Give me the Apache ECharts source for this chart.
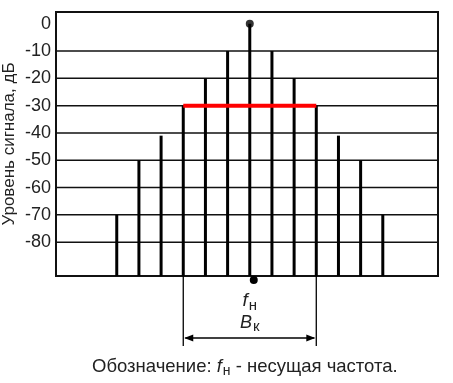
<!DOCTYPE html>
<html>
<head>
<meta charset="utf-8">
<script src="https://cdn.jsdelivr.net/npm/echarts@6/dist/echarts.min.js"></script>
<style>html,body{margin:0;padding:0;background:#fff}#c{width:453px;height:383px}</style>
</head>
<body>
<div id="c"></div>
<script>
// Spectrum lines: offset from carrier (in channel steps) and level in dB
const offsets = [-6, -5, -4, -3, -2, -1, 0, 1, 2, 3, 4, 5, 6];
const levels  = [-70, -50, -41, -30, -20, -10, 0, -10, -20, -30, -41, -50, -70];
// Y tick labels (dB)
const yTicks = [0, -10, -20, -30, -40, -50, -60, -70, -80];
// Channel bandwidth edges and level (red line)
const bandEdges = [-3, 3];
const bandLevel = -30;
const carrier = 0;
// Texts
const yName = 'Уровень сигнала, дБ';
const captionPre = 'Обозначение: ';
const captionPost = ' - несущая частота.';

const X_MIN = -8.74, X_MAX = 8.49, Y_MIN = -92.4, Y_MAX = 4.3;
const FONT = 'Liberation Sans, Arial, sans-serif';

const chart = echarts.init(document.getElementById('c'), null, {renderer: 'canvas'});

const gridVals = yTicks.filter(v => v !== 0);

const option = {
  animation: false,
  grid: {left: 56, right: 15, top: 12, bottom: 107, outerBoundsMode: 'none', containLabel: false,
         show: true, borderColor: '#111', borderWidth: 2, backgroundColor: 'transparent'},
  xAxis: {type: 'value', min: X_MIN, max: X_MAX, show: false},
  yAxis: {
    type: 'value', min: Y_MIN, max: Y_MAX,
    axisLine: {show: false}, axisTick: {show: false}, splitLine: {show: false},
    axisLabel: {customValues: yTicks, fontSize: 18, color: '#222', fontFamily: FONT, margin: 5, padding: [3, 0, 0, 0]},
    name: yName, nameLocation: 'middle', nameRotate: 90, nameGap: 38, nameMoveOverlap: false,
    nameTextStyle: {fontSize: 17, color: '#222', fontFamily: FONT}
  },
  series: [
    { // horizontal grid lines
      type: 'custom', z: 1,
      data: gridVals.map(v => [0, v]),
      renderItem: (params, api) => {
        const v = api.value(1);
        const a = api.coord([X_MIN, v]), b = api.coord([X_MAX, v]);
        return {type: 'line', shape: {x1: a[0], y1: a[1], x2: b[0], y2: b[1]}, style: {stroke: '#111', lineWidth: 1.5}};
      }
    },
    { // spectral lines
      type: 'custom', z: 2,
      data: offsets.map((o, i) => [o, levels[i]]),
      renderItem: (params, api) => {
        const x = api.value(0), v = api.value(1);
        const t = api.coord([x, v]), b = api.coord([x, Y_MIN]);
        return {type: 'line', shape: {x1: t[0], y1: t[1], x2: b[0], y2: b[1]}, style: {stroke: '#000', lineWidth: 3}};
      }
    },
    { // carrier dot at top
      type: 'scatter', z: 4, symbol: 'circle', symbolSize: 8,
      itemStyle: {color: '#000'},
      data: [[carrier, levels[offsets.indexOf(carrier)]]]
    },
    { // red bandwidth line
      type: 'custom', z: 3,
      data: [[bandEdges[0], bandLevel, bandEdges[1]]],
      renderItem: (params, api) => {
        const a = api.coord([api.value(0), api.value(1)]), b = api.coord([api.value(2), api.value(1)]);
        return {type: 'line', shape: {x1: a[0], y1: a[1], x2: b[0], y2: b[1]}, style: {stroke: '#ff0000', lineWidth: 4}};
      }
    },
    { // annotations below plot
      type: 'custom', z: 5, clip: false,
      data: [[carrier, Y_MIN, bandEdges[0], bandEdges[1]]],
      renderItem: (params, api) => {
        const c = api.coord([api.value(0), api.value(1)]);
        const l = api.coord([api.value(2), api.value(1)]);
        const r = api.coord([api.value(3), api.value(1)]);
        const by = c[1];
        const ay = by + 62;
        const ah = 9, aw = 3.5;
        const lw = 1.3;
        return {
          type: 'group',
          children: [
            {type: 'circle', shape: {cx: c[0] + 4, cy: by + 4, r: 4}, style: {fill: '#000'}},
            {type: 'line', shape: {x1: l[0], y1: by, x2: l[0], y2: by + 70}, style: {stroke: '#000', lineWidth: lw}},
            {type: 'line', shape: {x1: r[0], y1: by, x2: r[0], y2: by + 70}, style: {stroke: '#000', lineWidth: lw}},
            {type: 'line', shape: {x1: l[0] + 2, y1: ay, x2: r[0] - 2, y2: ay}, style: {stroke: '#000', lineWidth: lw}},
            {type: 'polygon', shape: {points: [[l[0] + 1, ay], [l[0] + 1 + ah, ay - aw], [l[0] + 1 + ah, ay + aw]]}, style: {fill: '#000'}},
            {type: 'polygon', shape: {points: [[r[0] - 1, ay], [r[0] - 1 - ah, ay - aw], [r[0] - 1 - ah, ay + aw]]}, style: {fill: '#000'}},
            {type: 'text', style: {
              x: c[0], y: by + 25, align: 'center', verticalAlign: 'middle',
              text: '{f|f}{s|н}',
              rich: {
                f: {fontSize: 19, fontStyle: 'italic', fontFamily: FONT, fill: '#222'},
                s: {fontSize: 15, fontFamily: FONT, fill: '#222', padding: [9, 0, 0, 1]}
              }
            }},
            {type: 'text', style: {
              x: c[0], y: by + 47, align: 'center', verticalAlign: 'middle',
              text: '{f|B}{s|к}',
              rich: {
                f: {fontSize: 18, fontStyle: 'italic', fontFamily: FONT, fill: '#222'},
                s: {fontSize: 15, fontFamily: FONT, fill: '#222', padding: [8, 0, 0, 1]}
              }
            }}
          ]
        };
      }
    }
  ],
  graphic: [{
    type: 'text', left: 92, top: 357,
    style: {
      text: '{t|' + captionPre + '}{f|f}{s|н}{t|' + captionPost + '}',
      rich: {
        t: {fontSize: 18.5, fontFamily: FONT, fill: '#222'},
        f: {fontSize: 18.5, fontStyle: 'italic', fontFamily: FONT, fill: '#222'},
        s: {fontSize: 14, fontFamily: FONT, fill: '#222', padding: [9, 0, 0, 1]}
      }
    }
  }]
};
chart.setOption(option);
</script>
</body>
</html>
